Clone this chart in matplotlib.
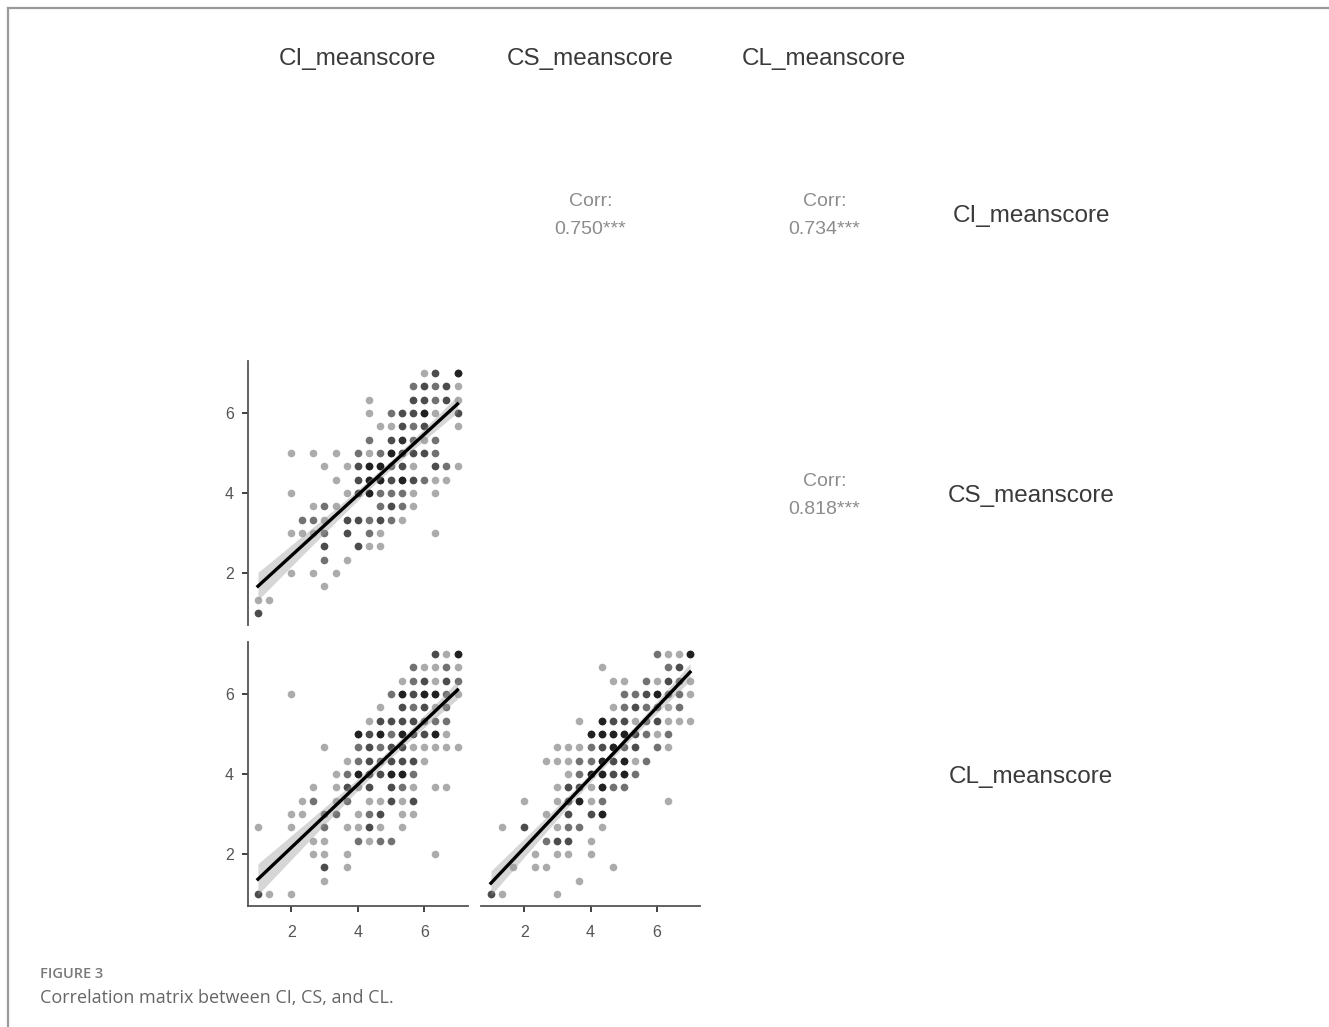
import numpy as np
import matplotlib
matplotlib.use("Agg")
import matplotlib.pyplot as plt
from matplotlib.lines import Line2D

W, H, DPI = 1329, 1027, 100

variables = ["CI_meanscore", "CS_meanscore", "CL_meanscore"]
corr_values = ["0.750***", "0.734***", "0.818***"]   # (CI,CS), (CI,CL), (CS,CL)
grid_values = np.arange(3, 22) / 3.0                 # mean scores 1, 1.33, ..., 7
tick_values = [2, 4, 6]

# respondent counts at each (x, y) grid cell; rows: y = 7 (top) ... 1 (bottom),
# columns: x = 1 ... 7 in steps of 1/3
ci_cs_counts = [
    "0000000000000001305",
    "0000000000000023231",
    "0000000000100033231",
    "0000000000102335103",
    "0000000000011323001",
    "0000000000203421200",
    "0001010102125333200",
    "0000001013552310321",
    "0000000103553532110",
    "0001000013522210100",
    "0000012100023210000",
    "0000221033232100000",
    "0001112030210000100",
    "0000003003110000000",
    "0000002010000000000",
    "0001010100000000000",
    "0000001000000000000",
    "1100000000000000000",
    "3000000000000000000",
]
ci_cl_counts = [
    "0000000000000000315",
    "0000000000000021121",
    "0000000000000123132",
    "0001000000002535521",
    "0000000000010323120",
    "0000000000133332220",
    "0000000005352533510",
    "0000001002323311111",
    "0000000012323331000",
    "0000000125335520000",
    "0000010131303210110",
    "0000120120113130000",
    "0001102201230110000",
    "1001002011310100000",
    "0000011002122000000",
    "0000011010000000100",
    "0000003010000000000",
    "0000001000000000000",
    "3101000000000000000",
]
cs_cl_counts = [
    "0000000000000002115",
    "0000000000100000230",
    "0000000000011021321",
    "0000000000002235221",
    "0000000000012322120",
    "0000000010533123111",
    "0000000005555321200",
    "0000001112352302100",
    "0000011122535120000",
    "0000000125535200000",
    "0000001331522000000",
    "0001001351200000100",
    "0000010303500000000",
    "0103001220100000000",
    "0000023301000000000",
    "0000101101000000000",
    "0010110000010000000",
    "0000000010000000000",
    "3100001000000000000",
]


def expand(counts):
    xs, ys = [], []
    nrow = len(counts)
    for r, row in enumerate(counts):
        assert len(row) == 19, row
        for c, ch in enumerate(row):
            n = int(ch)
            for _ in range(n):
                xs.append(grid_values[c])
                ys.append(grid_values[nrow - 1 - r])
    return np.array(xs), np.array(ys)


fig = plt.figure(figsize=(W / DPI, H / DPI), dpi=DPI)
fig.patch.set_facecolor("white")


def px_axes(left, top, right, bottom):
    return fig.add_axes([left / W, 1 - bottom / H, (right - left) / W, (bottom - top) / H])


col_px = [(248, 467.5), (481, 700), (715, 934)]
row_px = [(81, 345), (361, 625), (642, 906)]

FONT = ["Liberation Sans", "DejaVu Sans"]
axis_col = "#555555"
tick_lab_col = "#555555"


def style_axes(ax, show_left, show_bottom):
    ax.set_xlim(0.7, 7.3)
    ax.set_ylim(0.7, 7.3)
    ax.set_facecolor("none")
    for s in ["top", "right"]:
        ax.spines[s].set_visible(False)
    ax.spines["left"].set_visible(show_left)
    ax.spines["bottom"].set_visible(show_bottom)
    for s in ["left", "bottom"]:
        ax.spines[s].set_color(axis_col)
        ax.spines[s].set_linewidth(1.3)
    ax.set_xticks(tick_values)
    ax.set_yticks(tick_values)
    ax.tick_params(axis="both", length=4, width=1.3, color="#333333",
                   labelcolor=tick_lab_col, labelsize=11.5)
    ax.tick_params(axis="x", pad=10, bottom=show_bottom, labelbottom=show_bottom)
    ax.tick_params(axis="y", pad=6, left=show_left, labelleft=show_left)
    for lab in ax.get_xticklabels() + ax.get_yticklabels():
        lab.set_fontfamily(FONT)


lower = {(1, 0): ci_cs_counts, (2, 0): ci_cl_counts, (2, 1): cs_cl_counts}
upper = {(0, 1): corr_values[0], (0, 2): corr_values[1], (1, 2): corr_values[2]}

for (r, c), counts in lower.items():
    l, rr = col_px[c]
    t, b = row_px[r]
    ax = px_axes(l, t, rr, b)
    x, y = expand(counts)
    ax.scatter(x, y, s=30, color="black", alpha=0.33, linewidths=0, zorder=2)
    # linear fit with 95% confidence band
    n = len(x)
    slope, intercept = np.polyfit(x, y, 1)
    xf = np.linspace(x.min(), x.max(), 100)
    yf = intercept + slope * xf
    resid = y - (intercept + slope * x)
    s_err = np.sqrt(np.sum(resid ** 2) / (n - 2))
    sxx = np.sum((x - x.mean()) ** 2)
    se = s_err * np.sqrt(1.0 / n + (xf - x.mean()) ** 2 / sxx)
    ax.fill_between(xf, yf - 1.97 * se, yf + 1.97 * se, color="#999999",
                    alpha=0.4, linewidth=0, zorder=3)
    ax.plot(xf, yf, color="black", linewidth=2.4, zorder=4)
    style_axes(ax, show_left=(c == 0), show_bottom=(r == 2))

for (r, c), val in upper.items():
    l, rr = col_px[c]
    t, b = row_px[r]
    cx = (l + rr) / 2 / W
    cy = 1 - (t + b) / 2 / H
    fig.text(cx, cy + 12 / H, "Corr:", ha="center", va="center", fontsize=14,
             color="#8c8c8c", family=FONT)
    fig.text(cx, cy - 17 / H, val, ha="center", va="center", fontsize=14,
             color="#8c8c8c", family=FONT)

# column strip labels (top) and row strip labels (right)
col_centers = [357, 590, 824]
for name, cxp in zip(variables, col_centers):
    fig.text(cxp / W, 1 - 59 / H, name, ha="center", va="center", fontsize=17.5,
             color="#3a3a3a", family=FONT)
for name, (t, b) in zip(variables, row_px):
    fig.text(1031 / W, 1 - ((t + b) / 2 + 3) / H, name, ha="center", va="center",
             fontsize=17.5, color="#3a3a3a", family=FONT)

# figure frame lines (top and left)
fig.add_artist(Line2D([8 / W, 1.0], [1 - 7.5 / H, 1 - 7.5 / H], transform=fig.transFigure,
                      color="#9a9a9a", linewidth=1.6))
fig.add_artist(Line2D([8 / W, 8 / W], [1 - 7.5 / H, 0.0], transform=fig.transFigure,
                      color="#9a9a9a", linewidth=1.6))

CAP_FONT = ["Open Sans", "DejaVu Sans"]
fig.text(40 / W, 1 - 974 / H, "FIGURE 3", ha="left", va="center", fontsize=10.5,
         fontweight="semibold", color="#7a7a7a", family=CAP_FONT)
fig.text(40 / W, 1 - 998 / H, "Correlation matrix between CI, CS, and CL.", ha="left",
         va="center", fontsize=13, color="#666666", family=CAP_FONT)

fig.savefig("out.png", dpi=DPI, facecolor="white")
